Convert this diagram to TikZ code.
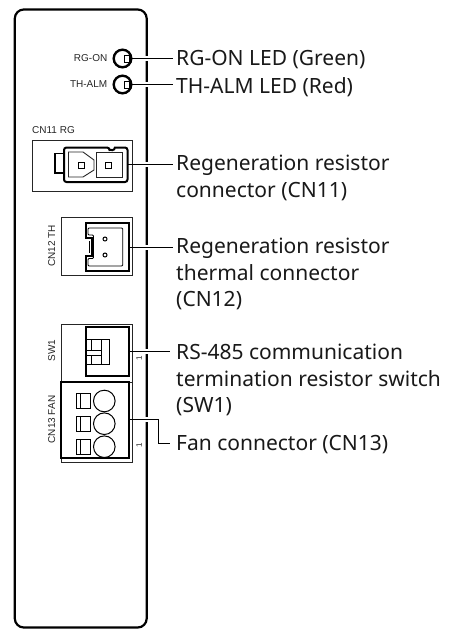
\documentclass[tikz,border=0pt]{standalone}
\usepackage{fontspec}
\setmainfont{Noto Sans}
\newfontfamily\smallf{Liberation Sans}
\tikzset{
 x=1pt,y=-1pt,
 panel/.style={draw=black,line width=2.2pt,rounded corners=9pt},
 thick box/.style={draw=black,line width=2pt},
 thin box/.style={draw=black!85,line width=0.9pt},
 leader/.style={draw=black,line width=1pt},
 halo/.style={draw=white,line width=5pt},
 lab/.style={anchor=west,align=left,font=\fontsize{21}{26.3}\selectfont,inner sep=0pt,text=black!90},
 small/.style={font=\smallf\fontsize{10}{12}\selectfont,inner sep=0pt,text=black!85},
 tiny1/.style={font=\smallf\fontsize{8}{9}\selectfont,inner sep=0pt,text=black!85,rotate=90},
}
\begin{document}
\begin{tikzpicture}
\useasboundingbox (0,0) rectangle (451,630);
\fill[white] (0,0) rectangle (451,630);
\draw[panel] (14.8,9.5) rectangle (146.7,627.5);
% LEDs
\draw[line width=2.4pt] (122.5,58.5) circle (8.8);
\draw[line width=2.4pt] (122.5,84.5) circle (8.8);
\draw[fill=white,line width=1pt] (124,55) rectangle (129,62.5);
\draw[fill=white,line width=1pt] (124,81) rectangle (129,88.5);
\node[small,anchor=east] (rgon) at (107.5,58.5) {RG-ON};
\node[small,anchor=east] (thalm) at (107.5,84.5) {TH-ALM};
% CN11
\node[small,anchor=west] (cn11) at (32,130) {CN11 RG};
\draw[thin box] (32,140) rectangle (132,191);
\draw[line width=1.6pt] (63,153.5) -- (55,153.5) -- (55,173) -- (63,173);
\draw[thick box,rounded corners=2.5pt] (64,147.5) -- (109.5,147.5) {[sharp corners] arc (180:0:2.7)} -- (127.5,147.5) -- (127.5,182) -- (64,182) -- cycle;
\draw[thin box] (68.5,152) -- (83,152) -- (94,160) -- (94,170) -- (83,177) -- (68.5,177) -- cycle;
\draw[thin box] (96,152) rectangle (122.7,177);
\draw[line width=1pt] (78,162) rectangle (84,168);
\draw[line width=1pt] (105,162) rectangle (111,168);
% CN12
\node[small,rotate=90] (cn12) at (51.7,246) {CN12 TH};
\draw[thin box] (61.7,217.7) rectangle (132,275.7);
\draw[line width=2pt] (85.7,222.7) -- (129.3,222.7) -- (129.3,271) -- (85.7,271) -- (85.7,255.7) -- (91.7,255.7) -- (91.7,238) -- (85.7,238) -- cycle;
\draw[line width=0.9pt,rounded corners=1pt] (88,228) -- (122.7,228) -- (122.7,266) -- (88,266) -- (88,258.5) -- (93.5,258.5) -- (93.5,235) -- (88,235) -- cycle;
\draw[line width=0.7pt] (89.5,241) -- (89.5,253);
\draw[line width=1pt] (105,239) circle (2);
\draw[line width=1pt] (105,255) circle (2);
% SW1
\node[small,rotate=90] (sw1) at (51.7,350.5) {SW1};
\draw[thin box] (61.7,324) rectangle (132,382);
\draw[thick box] (85.7,327.3) rectangle (129,375.7);
\draw[line width=0.9pt] (86.7,339) -- (109,339) -- (109,364) -- (86.7,364);
\draw[line width=0.9pt] (101.7,339) -- (101.7,364);
\draw[line width=0.9pt] (86.7,350) -- (101.7,350) (86.7,355) -- (101.7,355) (91.7,339) -- (91.7,350) (91.7,355) -- (91.7,364);
\node[tiny1] (one1) at (139,358) {1};
% CN13
\node[small,rotate=90] (cn13) at (51.7,419.5) {CN13 FAN};
\draw[thin box] (61.7,382) -- (132.3,382) -- (132.3,462) -- (61.7,462) -- cycle;
\draw[thick box] (61.2,381.7) rectangle (128.5,457.7);
\foreach \y in {401,423.7,446.7}{
 \draw[line width=1pt] (76,\y-7.5) rectangle (90,\y+7.5);
 \draw[line width=0.9pt] (80,\y-7.5) -- (80,\y+7.5);
 \draw[line width=1pt] (104.3,\y) circle (10.8);
}
\node[tiny1] (one2) at (139,445) {1};
% leaders
\coordinate (l1a) at (131.5,58.5); \coordinate (l1b) at (173,58.5);
\coordinate (l2a) at (131.5,84.7); \coordinate (l2b) at (173,84.7);
\coordinate (l3a) at (128,164); \coordinate (l3b) at (173,164);
\coordinate (l4a) at (130,247); \coordinate (l4b) at (173,247);
\coordinate (l5a) at (130,351.7); \coordinate (l5b) at (169.5,351.7);
\coordinate (l6a) at (130,419.3); \coordinate (l6c) at (158,419.3); \coordinate (l6d) at (158,443); \coordinate (l6b) at (169.5,443);
\draw[halo] (144,58.5) -- (149,58.5) (144,84.7) -- (149,84.7) (144,164) -- (149,164) (144,247) -- (149,247) (144,351.7) -- (149,351.7) (144,419.3) -- (149,419.3);
\draw[leader] (l1a) -- (l1b);
\draw[leader] (l2a) -- (l2b);
\draw[leader] (l3a) -- (l3b);
\draw[leader] (l4a) -- (l4b);
\draw[leader] (l5a) -- (l5b);
\draw[leader] (l6a) -- (l6c) -- (l6d) -- (l6b);
% labels
\node[lab] (t1) at (176,60) {RG-ON LED (Green)};
\node[lab] (t2) at (176,87) {TH-ALM LED (Red)};
\node[lab] (t3) at (176,178) {Regeneration resistor\\connector (CN11)};
\node[lab] (t4) at (176,274) {Regeneration resistor\\thermal connector\\(CN12)};
\node[lab] (t5) at (176,380) {RS-485 communication\\termination resistor switch\\(SW1)};
\node[lab] (t6) at (176,445) {Fan connector (CN13)};
\end{tikzpicture}
\end{document}
